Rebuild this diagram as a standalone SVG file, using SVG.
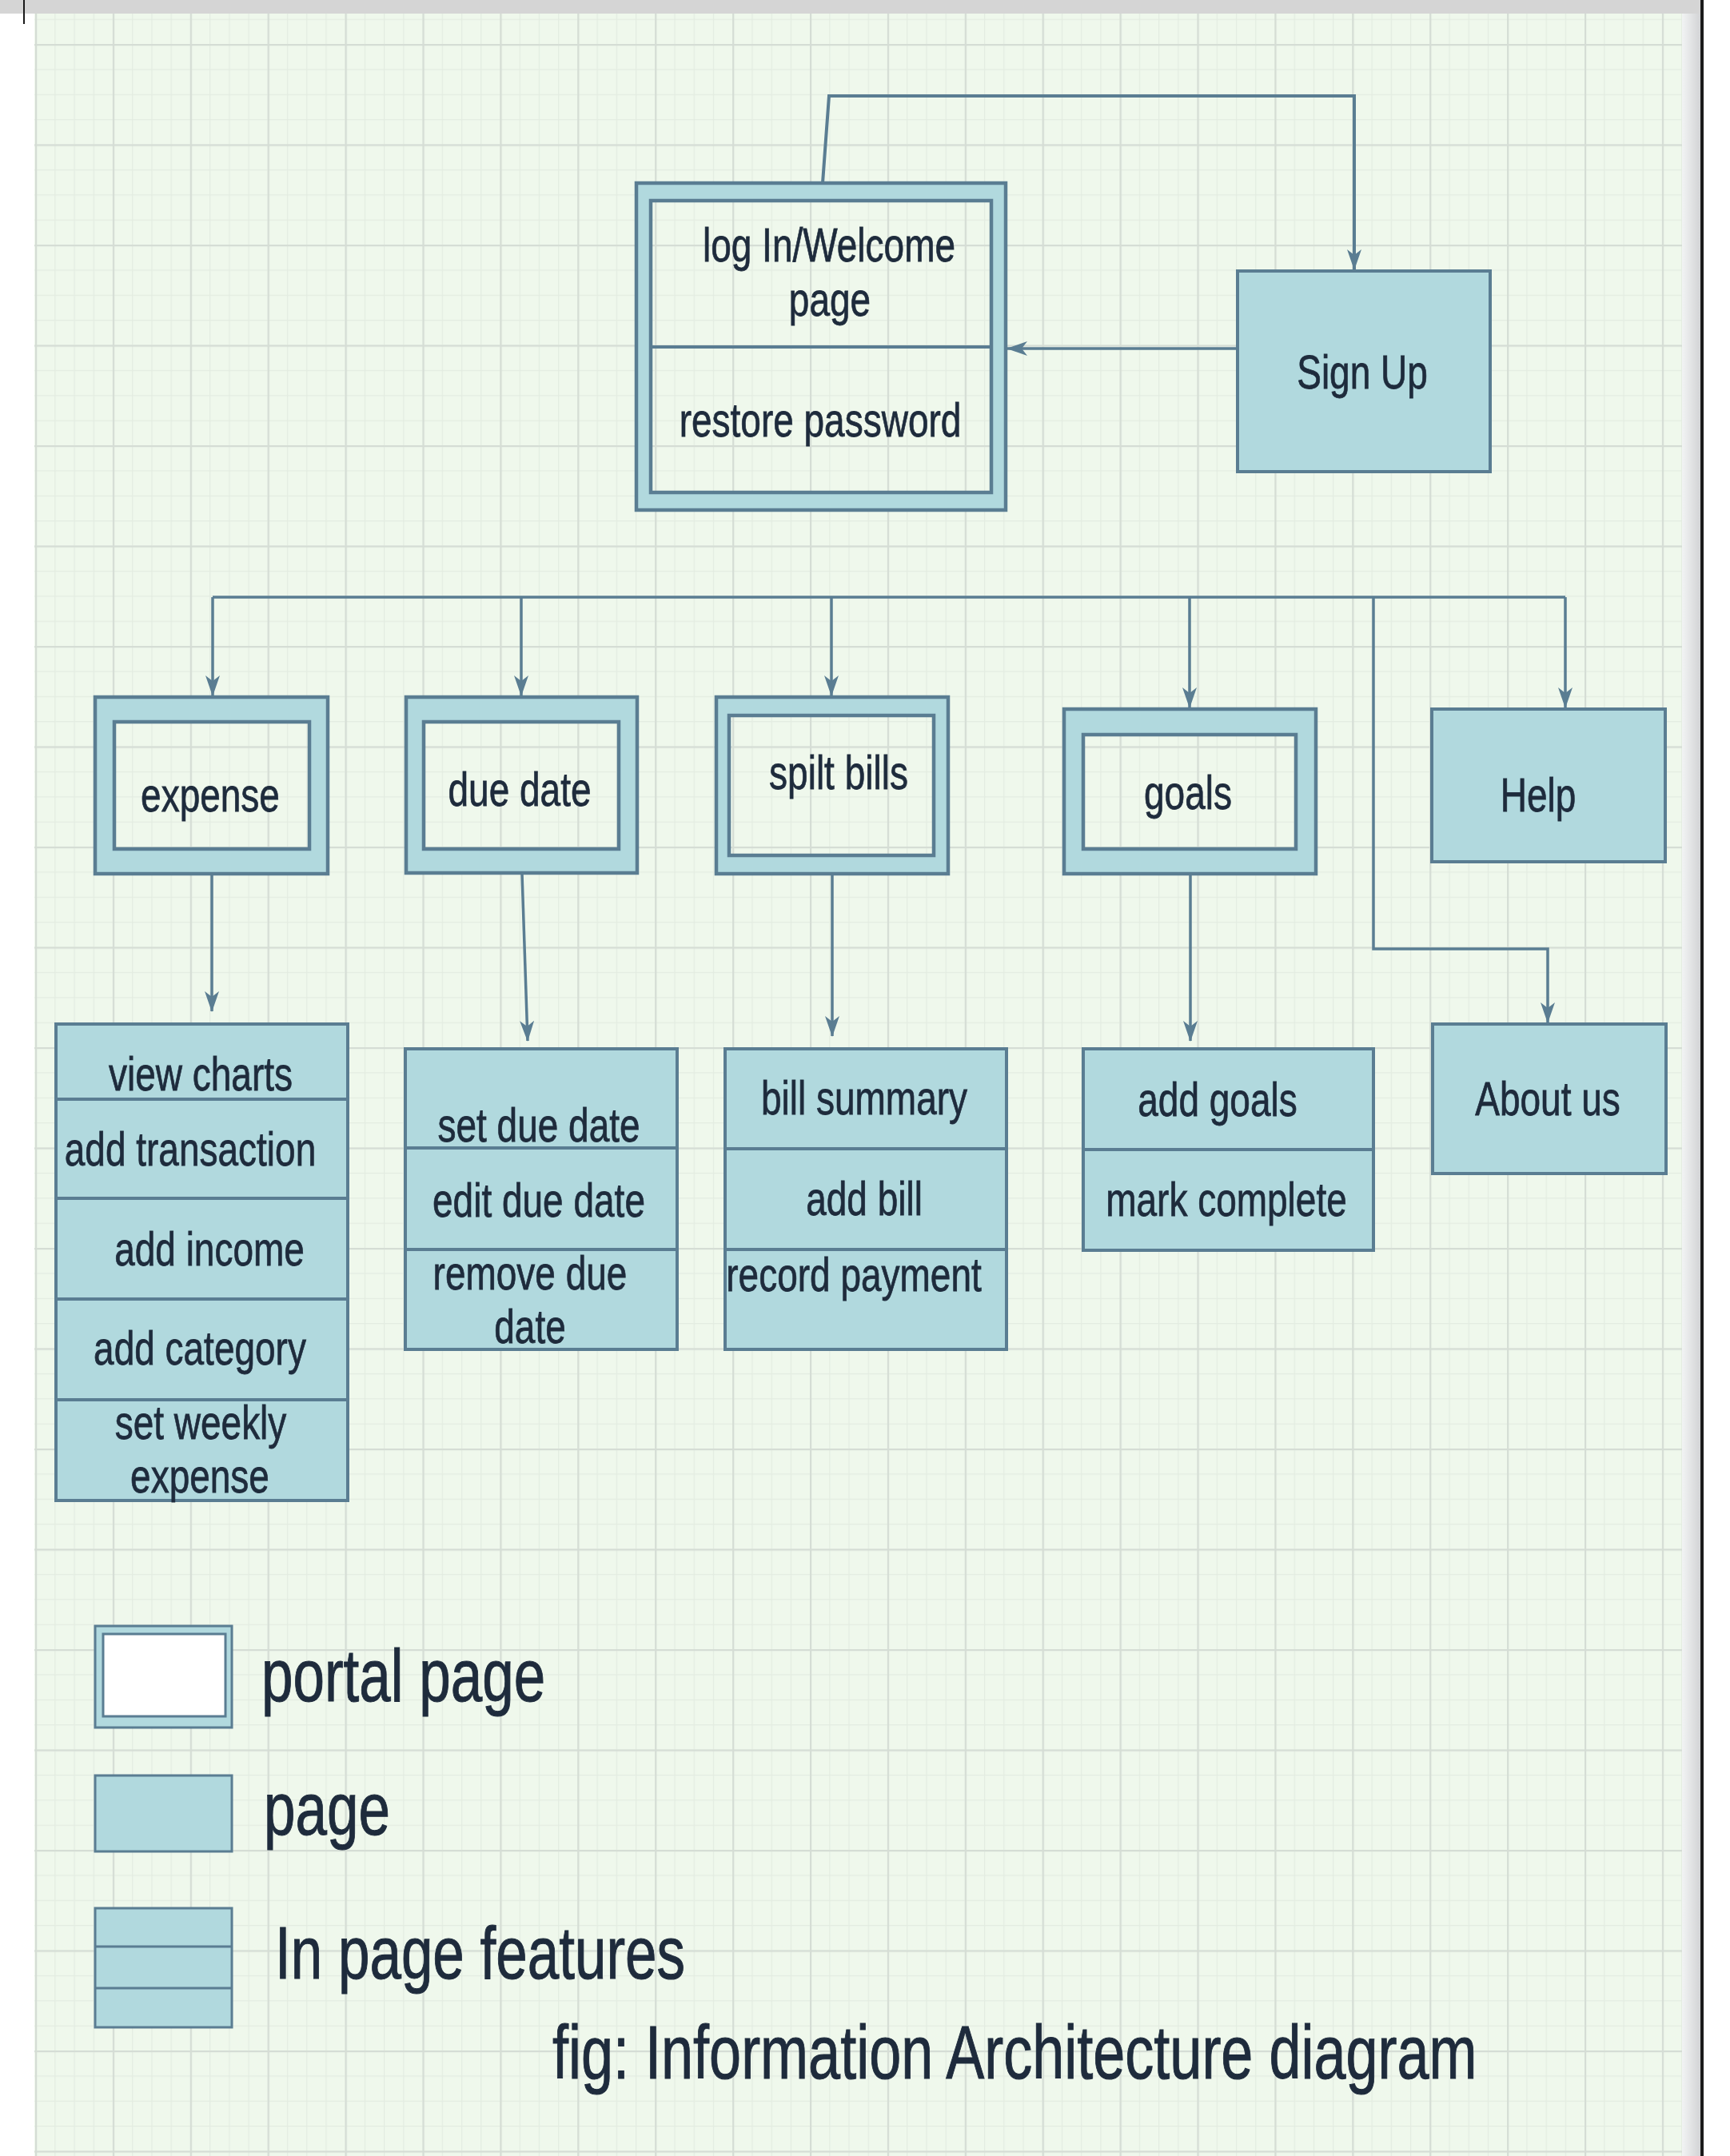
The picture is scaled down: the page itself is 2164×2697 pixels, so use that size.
<svg xmlns="http://www.w3.org/2000/svg" width="2164" height="2697" viewBox="0 0 2164 2697">
<defs>
  <pattern id="minor" patternUnits="userSpaceOnUse" x="44" y="55" width="24.225" height="31.375">
    <path d="M0.5,0 V31.375 M0,0.5 H24.225" stroke="#e3ece1" stroke-width="1.5" fill="none"/>
  </pattern>
  <pattern id="major" patternUnits="userSpaceOnUse" x="44" y="55" width="96.9" height="125.5">
    <path d="M1,0 V125.5 M0,1 H96.9" stroke="#d5ddd5" stroke-width="2.5" fill="none"/>
  </pattern>
  <linearGradient id="edge" x1="0" y1="0" x2="1" y2="0">
    <stop offset="0" stop-color="#f2f4f4"/>
    <stop offset="1" stop-color="#d2d3d5"/>
  </linearGradient>
  <marker id="arr" viewBox="0 0 26 18" refX="25" refY="9" markerWidth="26" markerHeight="18" markerUnits="userSpaceOnUse" orient="auto">
    <path d="M0,0 L26,9 L0,18 L7,9 Z" fill="#5a7d92"/>
  </marker>
</defs>
<style>
  .bg { fill: #eff8ec; }
  .ring { fill: #b1d9de; fill-rule: evenodd; stroke: none; }
  .ol { fill: none; stroke: #5a7d92; stroke-width: 4.5; }
  .box { fill: #b1d9de; stroke: #5a7d92; stroke-width: 4; }
  .div { stroke: #5a7d92; stroke-width: 4; fill: none; }
  .con { fill: none; stroke: #5a7d92; stroke-width: 3.5; marker-end: url(#arr); }
  .line { fill: none; stroke: #5a7d92; stroke-width: 3.5; }
  text { font-family: "Liberation Sans", Arial, Helvetica, sans-serif; fill: #1e2b3c; font-size: 46px; stroke: #1e2b3c; stroke-width: 0.6; }
  .c { text-anchor: middle; }
  .lg { font-size: 71px; stroke-width: 0.8; }
</style>

<!-- page background and frame -->
<rect x="0" y="0" width="2164" height="2697" fill="#ffffff"/>
<rect class="bg" x="43" y="17" width="2061" height="2680"/>
<rect x="43" y="17" width="2061" height="2680" fill="url(#minor)"/>
<rect x="43" y="17" width="2061" height="2680" fill="url(#major)"/>
<rect x="2104" y="0" width="23" height="2697" fill="url(#edge)"/>
<rect x="2127" y="0" width="4" height="2697" fill="#1a1a1a"/>
<rect x="0" y="0" width="2127" height="17" fill="#d5d5d5"/>
<rect x="29" y="0" width="2" height="30" fill="#1a1a1a"/>

<!-- connectors -->
<g id="connectors">
  <path class="con" d="M1029,229 L1037,120 L1694,120 L1694,337" style="stroke-width:4"/>
  <path class="con" d="M1548,436 L1260,436"/>
  <path class="line" d="M266,747 L1958,747"/>
  <path class="con" d="M266,747 V870"/>
  <path class="con" d="M652,747 V870"/>
  <path class="con" d="M1040,747 V870"/>
  <path class="con" d="M1488,747 V885"/>
  <path class="con" d="M1958,747 V885"/>
  <path class="con" d="M1718,747 V1187 H1936 V1279"/>
  <path class="con" d="M265,1093 V1265"/>
  <path class="con" d="M653,1093 L660,1302"/>
  <path class="con" d="M1041,1093 V1296"/>
  <path class="con" d="M1489,1093 V1302"/>
</g>

<!-- login / welcome portal page -->
<g id="login">
  <path class="ring" d="M796,229 H1258 V638 H796 Z M814,251 V616 H1240 V251 Z"/>
  <rect class="ol" x="796" y="229" width="462" height="409"/>
  <rect class="ol" x="814" y="251" width="426" height="365"/>
  <line class="div" x1="814" y1="434" x2="1240" y2="434"/>
  <text class="c" transform="translate(1037,327) scale(1,1.3)">log In/Welcome</text>
  <text class="c" transform="translate(1038,395) scale(1,1.3)">page</text>
  <text class="c" transform="translate(1026,546) scale(1,1.3)">restore password</text>
</g>

<g id="signup">
  <rect class="box" x="1548" y="339" width="316" height="251"/>
  <text class="c" transform="translate(1704,486) scale(1,1.3)">Sign Up</text>
</g>

<g id="expense">
  <path class="ring" d="M119,872 H410 V1093 H119 Z M143,903 V1062 H387 V903 Z"/>
  <rect class="ol" x="119" y="872" width="291" height="221"/>
  <rect class="ol" x="143" y="903" width="244" height="159"/>
  <text class="c" transform="translate(263,1015) scale(1,1.3)">expense</text>
</g>

<g id="duedate">
  <path class="ring" d="M508,872 H797 V1092 H508 Z M530,903 V1062 H774 V903 Z"/>
  <rect class="ol" x="508" y="872" width="289" height="220"/>
  <rect class="ol" x="530" y="903" width="244" height="159"/>
  <text class="c" transform="translate(650,1008) scale(1,1.3)">due date</text>
</g>

<g id="splitbills">
  <path class="ring" d="M896,872 H1186 V1093 H896 Z M912,895 V1070 H1168 V895 Z"/>
  <rect class="ol" x="896" y="872" width="290" height="221"/>
  <rect class="ol" x="912" y="895" width="256" height="175"/>
  <text class="c" transform="translate(1049,987) scale(1,1.3)">spilt bills</text>
</g>

<g id="goals">
  <path class="ring" d="M1331,887 H1646 V1093 H1331 Z M1355,919 V1062 H1621 V919 Z"/>
  <rect class="ol" x="1331" y="887" width="315" height="206"/>
  <rect class="ol" x="1355" y="919" width="266" height="143"/>
  <text class="c" transform="translate(1486,1012) scale(1,1.3)">goals</text>
</g>

<g id="help">
  <rect class="box" x="1791" y="887" width="292" height="191"/>
  <text class="c" transform="translate(1924,1015) scale(1,1.3)">Help</text>
</g>

<g id="aboutus">
  <rect class="box" x="1792" y="1281" width="292" height="187"/>
  <text class="c" transform="translate(1936,1395) scale(1,1.3)">About us</text>
</g>

<g id="expense-features">
  <rect class="box" x="70" y="1281" width="365" height="596"/>
  <path class="div" d="M70,1375 H435 M70,1499 H435 M70,1625 H435 M70,1751 H435"/>
  <text class="c" transform="translate(251,1364) scale(1,1.3)">view charts</text>
  <text class="c" transform="translate(238,1458) scale(1,1.3)">add transaction</text>
  <text class="c" transform="translate(262,1583) scale(1,1.3)">add income</text>
  <text class="c" transform="translate(250,1707) scale(1,1.3)">add category</text>
  <text class="c" transform="translate(251,1800) scale(1,1.3)">set weekly</text>
  <text class="c" transform="translate(250,1867) scale(1,1.3)">expense</text>
</g>

<g id="duedate-features">
  <rect class="box" x="507" y="1312" width="340" height="376"/>
  <path class="div" d="M507,1436 H847 M507,1563 H847"/>
  <text class="c" transform="translate(674,1428) scale(1,1.3)">set due date</text>
  <text class="c" transform="translate(674,1522) scale(1,1.3)">edit due date</text>
  <text class="c" transform="translate(663,1613) scale(1,1.3)">remove due</text>
  <text class="c" transform="translate(663,1680) scale(1,1.3)">date</text>
</g>

<g id="bills-features">
  <rect class="box" x="907" y="1312" width="352" height="376"/>
  <path class="div" d="M907,1437 H1259 M907,1563 H1259"/>
  <text class="c" transform="translate(1081,1394) scale(1,1.3)">bill summary</text>
  <text class="c" transform="translate(1081,1520) scale(1,1.3)">add bill</text>
  <text class="c" transform="translate(1068,1615) scale(1,1.3)">record payment</text>
</g>

<g id="goals-features">
  <rect class="box" x="1355" y="1312" width="363" height="252"/>
  <path class="div" d="M1355,1438 H1718"/>
  <text class="c" transform="translate(1523,1396) scale(1,1.3)">add goals</text>
  <text class="c" transform="translate(1534,1521) scale(1,1.3)">mark complete</text>
</g>

<!-- legend -->
<g id="legend-portal">
  <rect x="119" y="2034" width="171" height="127" fill="#b1d9de" stroke="#5a7d92" stroke-width="3"/>
  <rect x="129" y="2044" width="153" height="103" fill="#ffffff" stroke="#5a7d92" stroke-width="3"/>
  <text class="lg" transform="translate(327,2128) scale(1,1.3)">portal page</text>
</g>
<g id="legend-page">
  <rect class="box" x="119" y="2221" width="171" height="95" style="stroke-width:3"/>
  <text class="lg" transform="translate(330,2295) scale(1,1.3)">page</text>
</g>
<g id="legend-features">
  <rect class="box" x="119" y="2387" width="171" height="149" style="stroke-width:3"/>
  <path class="div" d="M119,2435 H290 M119,2487 H290" style="stroke-width:3"/>
  <text class="lg" transform="translate(344,2475) scale(1,1.3)">In page features</text>
</g>
<g id="caption">
  <text class="lg" style="font-size:72px" transform="translate(691,2600) scale(1,1.3)">fig: Information Architecture diagram</text>
</g>
</svg>
